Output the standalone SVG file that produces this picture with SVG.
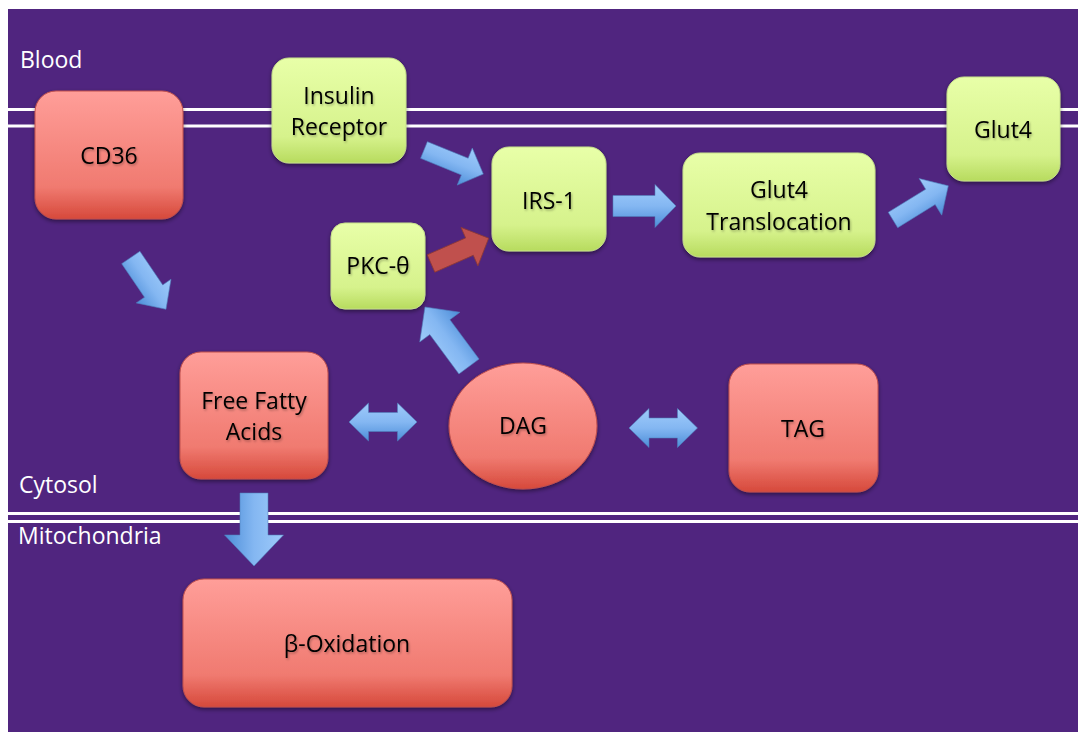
<svg xmlns="http://www.w3.org/2000/svg" width="1078" height="732" viewBox="0 0 1078 732">
  <style>
    .lbl { font-family: "Open Sans", "Liberation Sans", sans-serif; font-size: 23px; fill: #ffffff; }
    .txt { font-family: "Open Sans", "Liberation Sans", sans-serif; font-size: 23px; fill: #000000; text-anchor: middle; filter: url(#tshadow); }
    .red { fill: url(#gRed); stroke: #C0504D; stroke-width: 1; filter: url(#bshadow); }
    .green { fill: url(#gGreen); stroke: #C6E08A; stroke-width: 1; filter: url(#bshadow); }
    .blue { fill: url(#gBlue); stroke: #4F81BD; stroke-width: 0.8; stroke-opacity: 0.7; }
    .redarrow { fill: #C0504D; stroke: #8C3836; stroke-width: 0.8; }
    .mem { stroke: #ffffff; stroke-width: 3; fill: none; }
  </style>
  <defs>
    <linearGradient id="gRed" x1="0" y1="0" x2="0" y2="1">
      <stop offset="0" stop-color="#FF9E99"/>
      <stop offset="0.75" stop-color="#F07A70"/>
      <stop offset="1" stop-color="#D6493B"/>
    </linearGradient>
    <linearGradient id="gGreen" x1="0" y1="0" x2="0" y2="1">
      <stop offset="0" stop-color="#E8FFA8"/>
      <stop offset="0.75" stop-color="#D6F28C"/>
      <stop offset="1" stop-color="#B7DB5E"/>
    </linearGradient>
    <linearGradient id="gBlue" x1="0" y1="0" x2="0" y2="1">
      <stop offset="0" stop-color="#9FCBFA"/>
      <stop offset="0.5" stop-color="#84B7F2"/>
      <stop offset="1" stop-color="#4C8DD8"/>
    </linearGradient>
    <filter id="bshadow" x="-10%" y="-10%" width="120%" height="130%">
      <feDropShadow dx="0" dy="2" stdDeviation="2" flood-color="#000000" flood-opacity="0.45"/>
    </filter>
    <filter id="tshadow" x="-10%" y="-20%" width="120%" height="140%">
      <feDropShadow dx="1" dy="1.5" stdDeviation="0.8" flood-color="#000000" flood-opacity="0.3"/>
    </filter>
  </defs>

  <rect x="0" y="0" width="1078" height="732" fill="#ffffff"/>
  <rect x="8" y="9" width="1070" height="723" fill="#50257F"/>

  <g id="membranes">
    <line class="mem" x1="8" y1="109.5" x2="1078" y2="109.5"/>
    <line class="mem" x1="8" y1="126" x2="1078" y2="126"/>
    <line class="mem" x1="8" y1="513.5" x2="1078" y2="513.5"/>
    <line class="mem" x1="8" y1="521.5" x2="1078" y2="521.5"/>
  </g>

  <g id="labels">
    <text class="lbl" x="20" y="68">Blood</text>
    <text class="lbl" x="19" y="493">Cytosol</text>
    <text class="lbl" x="18" y="544">Mitochondria</text>
  </g>

  <g id="connectors">
    <path class="blue" transform="translate(130.8,257.5) rotate(55.8)" d="M0,-11 L40.6,-11 L40.6,-21 L62.6,0 L40.6,21 L40.6,11 L0,11 Z"/>
    <path class="blue" transform="translate(424,150) rotate(22.1)" d="M0,-9 L44,-9 L44,-20 L64,0 L44,20 L44,9 L0,9 Z"/>
    <path class="blue" transform="translate(613,206)" d="M0,-10.5 L42,-10.5 L42,-21.5 L63,0 L42,21.5 L42,10.5 L0,10.5 Z"/>
    <path class="blue" transform="translate(893,220) rotate(-31.7)" d="M0,-9 L44,-9 L44,-21.5 L65,0 L44,21.5 L44,9 L0,9 Z"/>
    <path class="redarrow" transform="translate(431,263.5) rotate(-23.7)" d="M0,-9.5 L42,-9.5 L42,-21 L63,0 L42,21 L42,9.5 L0,9.5 Z"/>
    <path class="blue" transform="translate(469,366.5) rotate(-126.5)" d="M0,-12.5 L49,-12.5 L49,-25 L74,0 L49,25 L49,12.5 L0,12.5 Z"/>
    <path class="blue" transform="translate(349,422)" d="M0,0 L19.5,-19 L19.5,-9.5 L48.5,-9.5 L48.5,-19 L68,0 L48.5,19 L48.5,9.5 L19.5,9.5 L19.5,19 Z"/>
    <path class="blue" transform="translate(629,428)" d="M0,0 L20,-19.5 L20,-10 L48.5,-10 L48.5,-19.5 L68.5,0 L48.5,19.5 L48.5,10 L20,10 L20,19.5 Z"/>
    <path class="blue" transform="translate(254,493) rotate(90)" d="M0,-14 L42,-14 L42,-29.5 L73,0 L42,29.5 L42,14 L0,14 Z"/>
  </g>

  <g id="cd36">
    <rect class="red" x="35" y="91" width="148" height="128" rx="21" ry="21"/>
    <text class="txt" x="109" y="164">CD36</text>
  </g>
  <g id="insulin-receptor">
    <rect class="green" x="272" y="58" width="134" height="105" rx="17" ry="17"/>
    <text class="txt" x="339" y="104">Insulin</text>
    <text class="txt" x="339" y="135">Receptor</text>
  </g>
  <g id="irs1">
    <rect class="green" x="492" y="147" width="114" height="104" rx="17" ry="17"/>
    <text class="txt" x="549" y="209">IRS-1</text>
  </g>
  <g id="pkc">
    <rect class="green" x="331" y="223" width="94" height="86" rx="14" ry="14"/>
    <text class="txt" x="378" y="274">PKC-θ</text>
  </g>
  <g id="glut4-translocation">
    <rect class="green" x="683" y="153" width="192" height="104" rx="17" ry="17"/>
    <text class="txt" x="779" y="198">Glut4</text>
    <text class="txt" x="779" y="230">Translocation</text>
  </g>
  <g id="glut4">
    <rect class="green" x="947" y="77" width="113" height="104" rx="17" ry="17"/>
    <text class="txt" x="1003" y="138">Glut4</text>
  </g>
  <g id="ffa">
    <rect class="red" x="180" y="352" width="148" height="127" rx="21" ry="21"/>
    <text class="txt" x="254" y="409">Free Fatty</text>
    <text class="txt" x="254" y="440">Acids</text>
  </g>
  <g id="dag">
    <ellipse class="red" cx="523" cy="426" rx="74" ry="63"/>
    <text class="txt" x="523" y="434">DAG</text>
  </g>
  <g id="tag">
    <rect class="red" x="729" y="364" width="149" height="128" rx="21" ry="21"/>
    <text class="txt" x="803" y="437">TAG</text>
  </g>
  <g id="beta-oxidation">
    <rect class="red" x="183" y="579" width="329" height="128" rx="21" ry="21"/>
    <text class="txt" x="347" y="652">β-Oxidation</text>
  </g>
</svg>
